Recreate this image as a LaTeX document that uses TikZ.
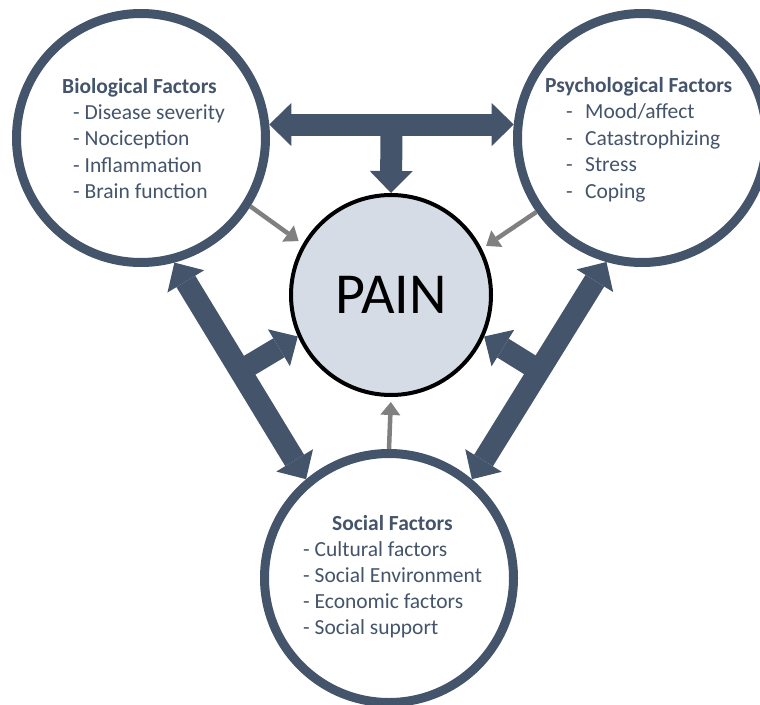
\documentclass[tikz,border=0pt]{standalone}
\usepackage{fontspec}
\setmainfont{Carlito}
\usetikzlibrary{arrows.meta,calc}
\definecolor{slate}{HTML}{44546A}
\definecolor{arrgray}{HTML}{808080}
\definecolor{painfill}{HTML}{D6DCE5}
\begin{document}
\begin{tikzpicture}[x=1pt,y=-1pt,
  factor/.style={circle, draw=slate, line width=9pt, fill=white, minimum size=249pt, inner sep=0pt},
  painnode/.style={circle, draw=black, line width=4pt, fill=painfill, minimum size=200pt, inner sep=0pt, font=\fontsize{58}{60}\selectfont},
  ftitle/.style={anchor=base west, text=slate, inner sep=0pt, font=\fontsize{21.5}{25}\selectfont\bfseries},
  fitem/.style={anchor=base west, text=slate, inner sep=0pt, font=\fontsize{21.5}{25}\selectfont},
  bigtip/.tip={Triangle[width=43pt,length=22pt,line width=0pt]},
  smalltip/.tip={Triangle[width=20pt,length=13pt,line width=0pt]},
  bigarrow/.style={draw=slate, line width=22pt},
  smallarrow/.style={draw=arrgray, line width=4.5pt, -smalltip},
]
\useasboundingbox (0,0) rectangle (760,704);
\clip (0,0) rectangle (760,704);

% circles
\node[factor] (bio) at (141,138) {};
\node[factor] (psych) at (642,138) {};
\node[factor] (social) at (389,578) {};
\node[painnode] (pain) at (391,295) {PAIN};

% texts
\node[ftitle] (biot) at (62,93) {Biological Factors};
\foreach \t [count=\i] in {Disease severity,Nociception,Inflammation,Brain function}
  \node[fitem] (bio-\i) at (73,93+26.4*\i) {- \t};

\node[ftitle] (psycht) at (545,92.5) {Psychological Factors};
\foreach \t [count=\i] in {Mood/affect,Catastrophizing,Stress,Coping}
  \node[fitem] (psych-\i) at (566,92.5+26.4*\i) {-\hspace{12.4pt}\t};

\node[ftitle] (socialt) at (332,530) {Social Factors};
\foreach \t [count=\i] in {Cultural factors,Social Environment,Economic factors,Social support}
  \node[fitem] (social-\i) at (303,530+26*\i) {- \t};

% thick connectors
\coordinate (topmid) at ($(bio.6)!0.5!(psych.174)$);
\coordinate (leftmid) at ($(bio.-75)!0.5!(social.130)$);
\coordinate (rightmid) at ($(psych.-106)!0.5!(social.50)$);
\draw[bigarrow, bigtip-bigtip] (bio.6) -- (psych.174);
\draw[bigarrow, -bigtip] (topmid) -- (pain.north);
\draw[bigarrow, bigtip-bigtip] (bio.-75) -- (social.130);
\draw[bigarrow, -bigtip] (leftmid) -- (pain.204);
\draw[bigarrow, bigtip-bigtip] (psych.-106) -- (social.50);
\draw[bigarrow, -bigtip] (rightmid) -- (pain.-24);

% thin gray connectors
\draw[smallarrow, shorten >=5pt] (bio.-32) -- (pain.150);
\draw[smallarrow, shorten >=5pt] (psych.215) -- (pain.27);
\draw[smallarrow, shorten >=5pt] (social.north) -- (pain.south);
\end{tikzpicture}
\end{document}
